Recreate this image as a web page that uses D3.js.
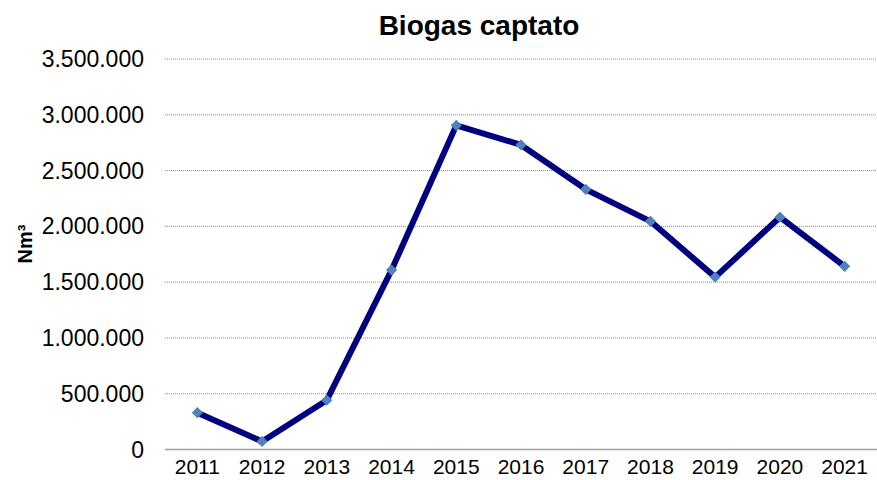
<!DOCTYPE html>
<html>
<head>
<meta charset="utf-8">
<script src="https://cdn.jsdelivr.net/npm/d3@7"></script>
<style>
  body { margin: 0; background: #fff; }
  svg { display: block; font-family: "Liberation Sans", Arial, sans-serif; }
</style>
</head>
<body>
<div id="chart"></div>
<script>
var years = ["2011", "2012", "2013", "2014", "2015", "2016", "2017", "2018", "2019", "2020", "2021"];
var biogas = [330000, 72000, 442000, 1608000, 2905000, 2730000, 2332000, 2045000, 1545000, 2082000, 1642000];
var yTicks = [0, 500000, 1000000, 1500000, 2000000, 2500000, 3000000, 3500000];

const w = 877;
const h = 480;
const plotLeft = 165, plotRight = 877, plotTop = 59, plotBottom = 449.5;

const svg = d3.select("#chart")
  .append("svg")
  .attr("width", w)
  .attr("height", h);

const xScale = d3.scaleBand().domain(years).range([plotLeft, plotRight]).padding(0);
const yScale = d3.scaleLinear().domain([0, 3500000]).range([plotBottom, plotTop]);

const fmt = d3.formatLocale({ decimal: ",", thousands: ".", grouping: [3], currency: ["", "€"] }).format(",d");

// gridlines
svg.append("g")
  .selectAll("line")
  .data(yTicks.filter(d => d > 0))
  .enter()
  .append("line")
  .attr("x1", plotLeft)
  .attr("x2", plotRight)
  .attr("y1", d => yScale(d))
  .attr("y2", d => yScale(d))
  .attr("stroke", "#8c8c8c")
  .attr("stroke-width", 1)
  .attr("stroke-dasharray", "1,1");

// x axis line
svg.append("line")
  .attr("x1", plotLeft)
  .attr("x2", plotRight)
  .attr("y1", plotBottom)
  .attr("y2", plotBottom)
  .attr("stroke", "#a0a0a0")
  .attr("stroke-width", 1.5);

// y tick labels
svg.append("g")
  .selectAll("text")
  .data(yTicks)
  .enter()
  .append("text")
  .attr("x", 144)
  .attr("y", d => yScale(d))
  .attr("dy", "0.35em")
  .attr("text-anchor", "end")
  .attr("font-size", 23)
  .attr("fill", "#000")
  .text(d => fmt(d));

// x tick labels
svg.append("g")
  .selectAll("text")
  .data(years)
  .enter()
  .append("text")
  .attr("x", d => xScale(d) + xScale.bandwidth() / 2)
  .attr("y", 474)
  .attr("text-anchor", "middle")
  .attr("font-size", 21)
  .attr("fill", "#000")
  .text(d => d);

// title
svg.append("text")
  .attr("x", 479)
  .attr("y", 35)
  .attr("text-anchor", "middle")
  .attr("font-size", 28)
  .attr("font-weight", "bold")
  .text("Biogas captato");

// y axis title
svg.append("text")
  .attr("transform", "translate(32, 244) rotate(-90)")
  .attr("text-anchor", "middle")
  .attr("font-size", 20)
  .attr("font-weight", "bold")
  .text("Nm³");

const pts = years.map((y, i) => ({ year: y, value: biogas[i] }));

const line = d3.line()
  .x(d => xScale(d.year) + xScale.bandwidth() / 2)
  .y(d => yScale(d.value));

svg.append("path")
  .datum(pts)
  .attr("fill", "none")
  .attr("stroke", "#000080")
  .attr("stroke-width", 6)
  .attr("stroke-linejoin", "round")
  .attr("d", line);

svg.append("g")
  .selectAll("path")
  .data(pts)
  .enter()
  .append("path")
  .attr("transform", d => `translate(${xScale(d.year) + xScale.bandwidth() / 2},${yScale(d.value)})`)
  .attr("d", d3.symbol().type(d3.symbolDiamond2).size(80))
  .attr("fill", "#4f81bd");
</script>
</body>
</html>
